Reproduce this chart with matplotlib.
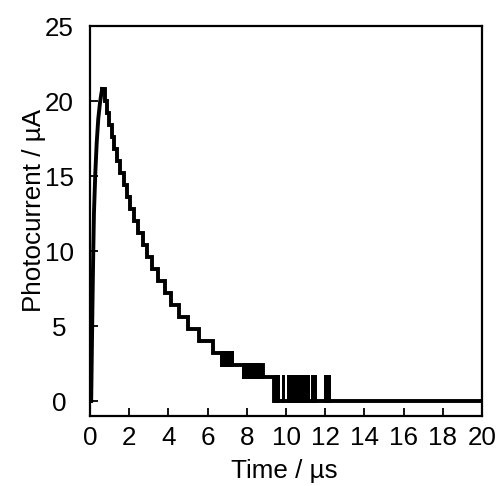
import numpy as np
import matplotlib
matplotlib.use('Agg')
import matplotlib.pyplot as plt

plt.rcParams['font.family'] = ['Liberation Sans', 'DejaVu Sans']

# rising edge (µs, µA)
rise_t = [0.0, 0.06, 0.09, 0.12, 0.16, 0.20, 0.27, 0.34, 0.42, 0.51, 0.58, 0.62]
rise_i = [0.0, 0.0, 3.0, 6.0, 9.5, 12.5, 15.2, 17.2, 18.8, 19.9, 20.5, 20.8]

# quantised decay: level holds from step_t[k] until step_t[k+1]
step_t = [0.62, 0.78, 0.86, 0.97, 1.10, 1.24, 1.39, 1.54, 1.71, 1.88, 2.06,
          2.25, 2.46, 2.68, 2.91, 3.16, 3.47, 3.80, 4.15, 4.56, 5.00, 5.55,
          6.25, 7.00, 8.20, 8.76, 8.82, 9.39, 12.28, 20.0]
step_i = [20.8, 20.0, 19.2, 18.4, 17.6, 16.8, 16.0, 15.2, 14.4, 13.6, 12.8,
          12.0, 11.2, 10.4, 9.6, 8.8, 8.0, 7.2, 6.4, 5.6, 4.8, 4.0,
          3.2, 2.4, 1.6, 2.4, 1.6, 0.0, 0.0, 0.0]

# regions where the reading flickers between two adjacent levels
flick_t0 = [6.63, 7.74, 9.39, 9.78, 10.04, 11.26, 11.94]
flick_t1 = [7.35, 8.71, 9.70, 9.96, 11.22, 11.60, 12.28]
flick_lo = [2.4, 1.6, 0.0, 0.0, 0.0, 0.0, 0.0]
flick_hi = [3.2, 2.4, 1.6, 1.6, 1.6, 1.6, 1.6]

fig = plt.figure(figsize=(4.99, 4.86), dpi=100)
ax = fig.add_axes([0.1804, 0.144, 0.7856, 0.8025])

lw = 2.8
half_lw = 0.13
ax.plot(rise_t, rise_i, color='black', lw=lw, solid_joinstyle='miter')
ax.step(step_t, step_i, where='post', color='black', lw=lw, solid_joinstyle='miter')
for t0, t1, lo, hi in zip(flick_t0, flick_t1, flick_lo, flick_hi):
    ax.fill_between([t0, t1], [lo - half_lw] * 2, [hi + half_lw] * 2,
                    color='black', lw=0)

ax.set_xlim(0, 20)
ax.set_ylim(-1, 25)
ax.set_xticks(np.arange(0, 21, 2))
ax.set_yticks(np.arange(0, 26, 5))

fs = 18.7
for s in ax.spines.values():
    s.set_linewidth(1.6)
ax.tick_params(direction='in', length=6, width=1.3, labelsize=fs)
ax.tick_params(axis='x', pad=7)
ax.tick_params(axis='y', pad=22)
for lab in ax.get_yticklabels():
    lab.set_horizontalalignment('center')

ax.set_xlabel('Time / µs', fontsize=fs)
ax.set_ylabel('Photocurrent / µA', fontsize=fs)
ax.xaxis.set_label_coords(0.496, -0.11)
ax.yaxis.set_label_coords(-0.113, 0.528)

fig.savefig('out.png', dpi=100)
